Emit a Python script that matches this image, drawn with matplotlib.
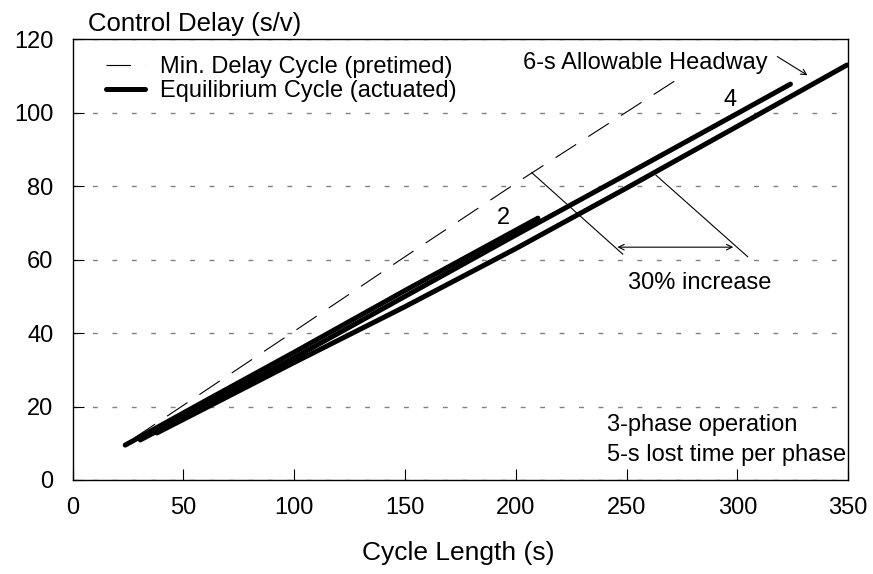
import matplotlib
matplotlib.use("Agg")
import matplotlib.pyplot as plt

plt.rcParams['font.family'] = ['Liberation Sans', 'DejaVu Sans']

# Min. delay cycle (pretimed)
pretimed_cycle = [28, 100, 150, 200, 276]
pretimed_delay = [11.5, 40.5, 60.8, 80.8, 110.3]

# Equilibrium cycle (actuated), by allowable headway
eq2_cycle = [23.7, 60, 100, 150, 210]
eq2_delay = [9.5, 21.6, 34.8, 51.6, 71.3]

eq4_cycle = [30.5, 60, 100, 150, 200, 250, 300, 324]
eq4_delay = [10.9, 20.3, 33.3, 50.0, 66.7, 83.2, 99.8, 107.8]

eq6_cycle = [38, 60, 100, 150, 200, 250, 300, 349.5]
eq6_delay = [12.8, 19.6, 32.0, 47.2, 63.0, 79.5, 96.3, 113.0]

x_ticks = [0, 50, 100, 150, 200, 250, 300, 350]
y_ticks = [0, 20, 40, 60, 80, 100, 120]

fig = plt.figure(figsize=(8.73, 5.74), dpi=100)
ax = fig.add_axes([0.0833, 0.1638, 0.8881, 0.7677])

lw_thick = 3.6
ax.plot(pretimed_cycle, pretimed_delay, color='black', lw=0.8,
        dashes=(22, 13), label='Min. Delay Cycle (pretimed)')
ax.plot(eq2_cycle, eq2_delay, color='black', lw=lw_thick,
        solid_capstyle='round', label='Equilibrium Cycle (actuated)')
ax.plot(eq4_cycle, eq4_delay, color='black', lw=lw_thick, solid_capstyle='round')
ax.plot(eq6_cycle, eq6_delay, color='black', lw=lw_thick, solid_capstyle='round')

ax.set_xlim(0, 350)
ax.set_ylim(0, 120)
ax.set_xticks(x_ticks)
ax.set_yticks(y_ticks)
ax.tick_params(direction='in', length=8, width=0.8, labelsize=17, color='black')
ax.tick_params(axis='x', pad=12)
ax.tick_params(axis='y', pad=14)
ax.yaxis.grid(True, color='#808080', lw=1.0, dashes=(3.5, 10.5))
ax.set_axisbelow(True)
for s in ax.spines.values():
    s.set_linewidth(1.0)

leg = ax.legend(loc='upper left', bbox_to_anchor=(0.0426, 0.962), frameon=False,
                fontsize=17, handlelength=1.65, handletextpad=0.64,
                labelspacing=0.1, borderpad=0, borderaxespad=0)

# annotations
ax.text(194.3, 71.3, '2', fontsize=17, ha='center', va='center')
ax.text(296.8, 103.5, '4', fontsize=17, ha='center', va='center')
ax.annotate('', xy=(332.8, 109.8), xytext=(317.0, 115.7),
            arrowprops=dict(arrowstyle='->', color='black', lw=0.8))
ax.text(258.7, 113.5, '6-s Allowable Headway', fontsize=17, ha='center', va='center')

ax.plot([207.2, 248.3], [83.7, 61.5], color='black', lw=0.8)
ax.plot([263.3, 304.7], [83.0, 60.8], color='black', lw=0.8)
ax.annotate('', xy=(298.2, 63.4), xytext=(245.9, 63.4),
            arrowprops=dict(arrowstyle='<->', color='black', lw=0.8,
                            shrinkA=0, shrinkB=0))
ax.text(283.2, 53.6, '30% increase', fontsize=17, ha='center', va='center')

ax.text(241.0, 15.0, '3-phase operation', fontsize=17, ha='left', va='center')
ax.text(241.0, 6.8, '5-s lost time per phase', fontsize=17, ha='left', va='center')

fig.text(88 / 873, 1 - 24 / 574, 'Control Delay (s/v)', fontsize=18.5,
         ha='left', va='center')
fig.text(458 / 873, 1 - 553 / 574, 'Cycle Length (s)', fontsize=19,
         ha='center', va='center')

fig.savefig('out.png', dpi=100)
